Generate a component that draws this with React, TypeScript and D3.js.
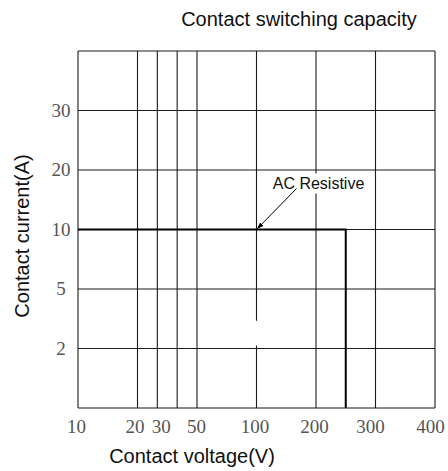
import React from 'react';
import * as d3 from 'd3';

// grid knots of the chart paper (not a true log scale)
const voltTicks = [10, 20, 30, 40, 50, 100, 200, 300, 400];
const voltSteps = [0, 3, 4, 5, 6, 9, 12, 15, 18];
const voltLabels = [10, 20, 30, 50, 100, 200, 300, 400];

const ampTicks = [1, 2, 5, 10, 20, 30, 40];
const ampLabels = [2, 5, 10, 20, 30];

// AC resistive switching limit
const acVolt = [10, 250, 250];
const acAmp = [10, 10, 1];

const width = 448;
const height = 471;
const margin = {top: 51, right: 13, bottom: 63, left: 78};

// labels nudged off their grid line where they would collide
const labelNudge: Record<number, number> = {10: -1.5, 20: -2.5, 30: 4, 50: -0.5, 100: -1.5, 200: -1.5, 300: -5, 400: -4.5};

const App = () => {
    const iw = width - margin.left - margin.right;
    const ih = height - margin.top - margin.bottom;

    const x = d3.scaleLinear()
        .domain(voltTicks)
        .range(voltSteps.map(s => margin.left + (s / 18) * iw));

    const y = d3.scaleLinear()
        .domain(ampTicks)
        .range(ampTicks.map((_, i) => margin.top + ih - (i / (ampTicks.length - 1)) * ih));

    const line = d3.line<number>()
        .x((_, i) => x(acVolt[i]))
        .y(d => y(d));

    const target: [number, number] = [x(100), y(10)];
    const labelX = target[0] + 62;
    const labelY = target[1] - 41;

    const grid = '#1a1a1a';
    const sans = 'Liberation Sans, Arial, sans-serif';

    return (
        <svg width={width} height={height} style={{position: 'absolute', left: 0, top: 0, background: '#fff'}}>
            <defs>
                <marker id="arr" viewBox="0 0 10 10" refX="9" refY="5" markerWidth="7" markerHeight="7" orient="auto">
                    <path d="M0,1.5 L10,5 L0,8.5 Z" fill="#000"/>
                </marker>
            </defs>
            <text x={299} y={26} textAnchor="middle" fontFamily={sans} fontSize={20} fill="#111">
                Contact switching capacity
            </text>

            {/* grid */}
            <g stroke={grid} strokeWidth={1.1} fill="none">
                {voltTicks.map(v => (
                    <line key={'v' + v} x1={x(v)} x2={x(v)} y1={y(1)} y2={y(40)}/>
                ))}
                {ampTicks.map(a => (
                    <line key={'a' + a} x1={x(10)} x2={x(400)} y1={y(a)} y2={y(a)}/>
                ))}
            </g>

            {/* break in the 100 V line */}
            <rect x={x(100) - 3} y={y(3.4)} width={6} height={y(2.15) - y(3.4)} fill="#fff"/>

            {/* AC resistive */}
            <path d={line(acAmp) || ''} fill="none" stroke="#000" strokeWidth={2}/>

            <rect x={labelX - 48} y={labelY - 15} width={96} height={20} fill="#fff"/>
            <text x={labelX} y={labelY} textAnchor="middle" fontFamily={sans} fontSize={16} fill="#111">
                AC Resistive
            </text>
            <line x1={target[0] + 40} y1={target[1] - 41} x2={target[0] + 1} y2={target[1] - 1}
                  stroke="#000" strokeWidth={1} markerEnd="url(#arr)"/>

            {/* tick labels */}
            <g fontFamily="Liberation Serif, Times New Roman, serif" fontSize={19} fill="#555" textAnchor="middle">
                {voltLabels.map(v => (
                    <text key={v} x={x(v) + (labelNudge[v] || 0)} y={433}>{v}</text>
                ))}
                {ampLabels.map(a => (
                    <text key={a} x={61} y={y(a) + 6}>{a}</text>
                ))}
            </g>

            <text x={192} y={463} textAnchor="middle" fontFamily={sans} fontSize={20} fill="#111">
                Contact voltage(V)
            </text>
            <text transform={`translate(29,236) rotate(-90)`} textAnchor="middle" fontFamily={sans} fontSize={20} fill="#111">
                Contact current(A)
            </text>
        </svg>
    );
};

export default App;
